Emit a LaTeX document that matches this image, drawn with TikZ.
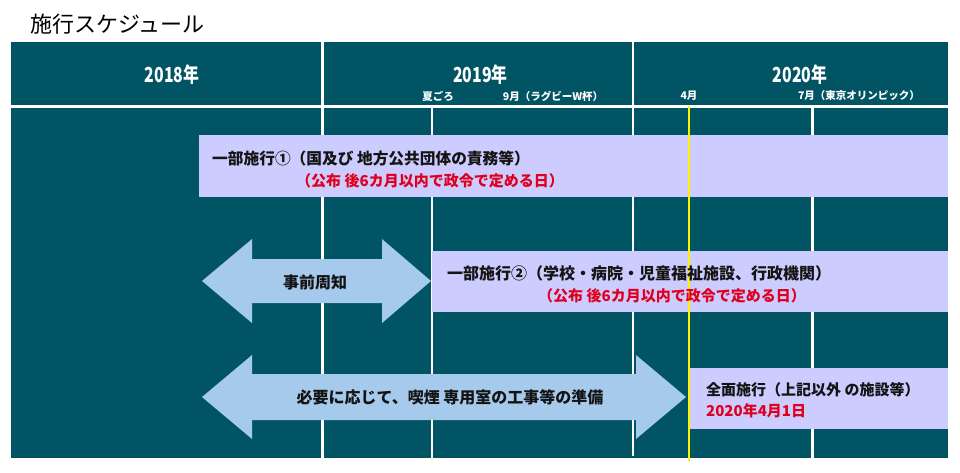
\documentclass[tikz,border=0pt]{standalone}
\usepackage{fontspec}
\setmainfont{Noto Sans CJK JP}
\usepackage{color}
\definecolor{plate}{RGB}{0,84,99}
\definecolor{lavender}{RGB}{204,204,255}
\definecolor{skyblue}{RGB}{166,202,236}
\definecolor{deepred}{RGB}{222,0,30}
\definecolor{ink}{RGB}{20,20,20}

\begin{document}
\begin{tikzpicture}[line cap=butt,line join=miter,x=1pt,y=-1pt,
  yearlabel/.style={text=white,inner sep=0pt,font=\bfseries\fontsize{18}{18}\selectfont},
  monthlabel/.style={text=white,inner sep=0pt,font=\bfseries\fontsize{10.5}{10.5}\selectfont},
  plan/.style={fill=lavender,inner sep=0pt},
  planline/.style={anchor=west,text=ink,inner sep=0pt,font=\bfseries\fontsize{15}{15}\selectfont},
  plandate/.style={planline,text=deepred},
  arrowtext/.style={text=ink,inner sep=0pt,font=\bfseries\fontsize{16}{16}\selectfont}]
\useasboundingbox (0,0) rectangle (960,472);
\fill [white] (0,0) rectangle (960,472);
\node [anchor=west,inner sep=0pt,font=\fontsize{22}{22}\selectfont] (title) at (30,24) {施行スケジュール};
\fill [plate] (11,42) rectangle (948,458);
\draw [white,line width=3pt] (11,106.5)--(948,106.5);
\draw [white,line width=2.5pt] (322.5,42)--(322.5,458);
\draw [white,line width=2.5pt] (633,42)--(633,456);
\draw [white,line width=2.5pt] (432,106)--(432,458);
\draw [white,line width=2.5pt] (812.5,106)--(812.5,458);
\node [yearlabel] (y2018) at (172,75) {\scalebox{0.88}[1.15]{2018年}};
\node [yearlabel] (y2019) at (480.5,75) {\scalebox{0.88}[1.15]{2019年}};
\node [yearlabel] (y2020) at (800,75) {\scalebox{0.88}[1.15]{2020年}};
\node [monthlabel] (summer) at (438,96) {夏ごろ};
\node [monthlabel] (rugby) at (553,96) {9月（ラグビーW杯）};
\node [monthlabel] (april) at (689,96) {4月};
\node [monthlabel] (olympic) at (859,96) {7月（東京オリンピック）};
\node [plan,minimum width=749,minimum height=62] (stage1) at (573.5,166) {};
\node [plan,minimum width=516,minimum height=61] (stage2) at (690,281.5) {};
\node [plan,minimum width=259,minimum height=61] (stage3) at (818.5,398.5) {};
\fill [skyblue] (202,281)--(252,239)--(252,259)--(382,259)--(382,239)--(431,281)
  --(382,323)--(382,303)--(252,303)--(252,323)--cycle;
\fill [skyblue] (202,397)--(252,355)--(252,374)--(636,374)--(636,355)--(686,397)
  --(636,439)--(636,420)--(252,420)--(252,439)--cycle;
\draw [yellow,line width=2.5pt] (689,106)--(689,461);
\node [planline,font=\bfseries\fontsize{15.7}{15.7}\selectfont] (stage1a) at (212,159) {一部施行①（国及び 地方公共団体の責務等）};
\node [plandate] (stage1b) at (296,181) {（公布 後6カ月以内で政令で定める日）};
\node [planline,font=\bfseries\fontsize{16}{16}\selectfont] (stage2a) at (447,273) {一部施行②（学校・病院・児童福祉施設、行政機関）};
\node [plandate] (stage2b) at (538,296) {（公布 後6カ月以内で政令で定める日）};
\node [planline] (stage3a) at (706,390) {全面施行（上記以外 の施設等）};
\node [plandate] (stage3b) at (706,411) {2020年4月1日};
\node [arrowtext] (notice) at (315,282) {事前周知};
\node [arrowtext] (prepare) at (450,397) {必要に応じて、喫煙 専用室の工事等の準備};
\end{tikzpicture}
\end{document}
